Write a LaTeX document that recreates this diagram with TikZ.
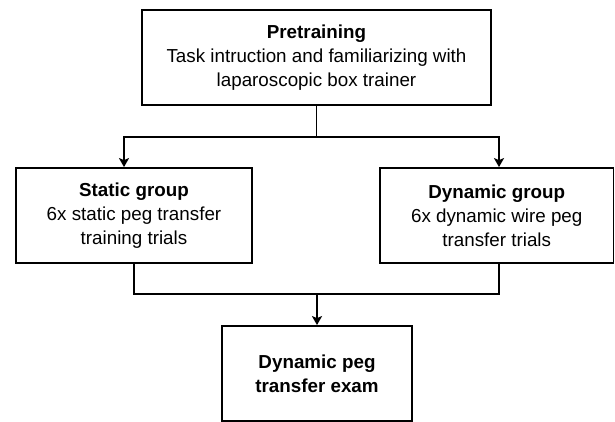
\documentclass[tikz,border=0pt]{standalone}
\usepackage{fontspec}
\setmainfont{Liberation Sans}
\usetikzlibrary{arrows.meta}
\begin{document}
\begin{tikzpicture}[x=1pt,y=-1pt,
  box/.style={draw=black,line width=1.8pt,rectangle,inner sep=0pt,align=center,
    font=\fontsize{18.8}{23.8}\selectfont},
  conn/.style={draw=black,line width=1.8pt},
  arr/.style={conn,-{Stealth[length=9pt,width=10pt,inset=2pt]}}]
\useasboundingbox (0,0) rectangle (615,422);
\node[box,minimum width=349pt,minimum height=95pt] (pre) at (316.5,57.5)
  {\textbf{Pretraining}\\Task intruction and familiarizing with\\laparoscopic box trainer};
\node[box,minimum width=236pt,minimum height=95pt] (sg) at (134,215.5)
  {\textbf{Static group}\\6x static peg transfer\\training trials};
\node[box,minimum width=233.5pt,minimum height=95pt] (dg) at (496.75,215.5)
  {\textbf{Dynamic group}\\6x dynamic wire peg\\transfer trials};
\node[box,minimum width=190pt,minimum height=95pt] (ex) at (317,373.5)
  {\textbf{Dynamic peg}\\\textbf{transfer exam}};
\coordinate (j1) at (316.5,137);
\coordinate (j2) at (317,294);
\draw[conn] (pre.south) -- (j1);
\draw[arr] (j1) -| ([xshift=-10pt]sg.north);
\draw[arr] (j1) -| ([xshift=2.25pt]dg.north);
\draw[conn] (sg.south) |- (j2);
\draw[conn] ([xshift=2.25pt]dg.south) |- (j2);
\draw[arr] (j2) -- (ex.north);
\end{tikzpicture}
\end{document}
